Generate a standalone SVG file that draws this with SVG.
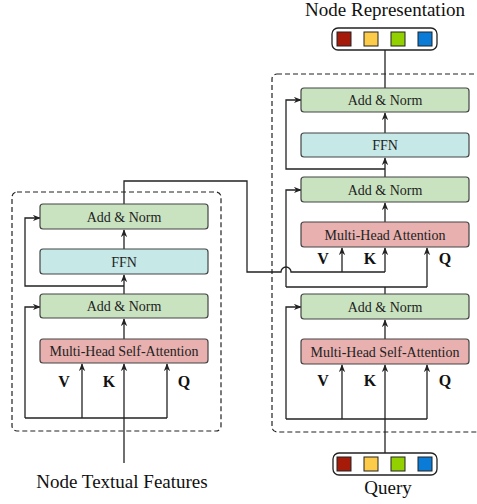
<svg xmlns="http://www.w3.org/2000/svg" width="477" height="504" viewBox="0 0 477 504">
<style>
.bx{stroke:#444;stroke-width:1.2}
.an{fill:#c9e2c0}
.ff{fill:#c6e9e8}
.mh{fill:#e8b0ae}
.lb{font-family:"Liberation Serif",serif;font-size:14px;fill:#222;text-anchor:middle}
.big{font-family:"Liberation Serif",serif;font-size:19px;fill:#111;text-anchor:middle}
.vkq{font-family:"Liberation Serif",serif;font-size:16px;font-weight:bold;fill:#111;text-anchor:middle}
.dash{fill:none;stroke:#222;stroke-width:1.2;stroke-dasharray:5,3}
.ln{fill:none;stroke:#222;stroke-width:1.3}
.ar{fill:none;stroke:#222;stroke-width:1.3;marker-end:url(#ah)}
.sq{stroke:#222;stroke-width:1}
.vec{fill:#fff;stroke:#222;stroke-width:1.3}
</style>
<defs>
<marker id="ah" viewBox="0 0 10 8" refX="9" refY="4" markerWidth="8" markerHeight="7" markerUnits="userSpaceOnUse" orient="auto">
<path d="M0,0 L10,4 L0,8 L3,4 z" fill="#222"/>
</marker>
</defs>

<g id="left-frame"><rect class="dash" x="12" y="192" width="209" height="239" rx="5"/></g>
<g id="right-frame"><rect class="dash" x="272" y="74" width="212" height="358" rx="5"/></g>

<g id="connectors">
<!-- left block -->
<line class="ar" x1="124" y1="463" x2="124" y2="364"/>
<polyline class="ln" points="25,418 167,418"/>
<line class="ar" x1="82" y1="418" x2="82" y2="364"/>
<line class="ar" x1="167" y1="418" x2="167" y2="364"/>
<polyline class="ar" points="25,418 25,307 40,307"/>
<line class="ar" x1="124" y1="339" x2="124" y2="319"/>
<line class="ar" x1="124" y1="294" x2="124" y2="275"/>
<polyline class="ar" points="124,286 25,286 25,218 40,218"/>
<line class="ar" x1="124" y1="249" x2="124" y2="230"/>
<path class="ln" d="M124,204 V181 H247 V272 H281 A5,5 0 0 1 291,272 H385"/>
<line class="ar" x1="385" y1="272" x2="385" y2="248"/>
<line class="ar" x1="342" y1="272" x2="342" y2="248"/>
<!-- right block -->
<line class="ar" x1="385" y1="453" x2="385" y2="365"/>
<polyline class="ln" points="286,419 427,419"/>
<line class="ar" x1="342" y1="419" x2="342" y2="365"/>
<line class="ar" x1="427" y1="419" x2="427" y2="365"/>
<polyline class="ar" points="286,419 286,307 301,307"/>
<line class="ar" x1="385" y1="339" x2="385" y2="320"/>
<line class="ln" x1="385" y1="294" x2="385" y2="287"/>
<polyline class="ln" points="286,287 427,287"/>
<polyline class="ar" points="286,287 286,190 301,190"/>
<line class="ar" x1="427" y1="287" x2="427" y2="248"/>
<line class="ar" x1="385" y1="222" x2="385" y2="203"/>
<line class="ar" x1="385" y1="177" x2="385" y2="158"/>
<polyline class="ar" points="385,169 286,169 286,100 301,100"/>
<line class="ar" x1="385" y1="133" x2="385" y2="113"/>
<line class="ln" x1="385" y1="88" x2="385" y2="50"/>
</g>

<g id="l-addnorm2"><rect class="bx an" x="40" y="204" width="168" height="25" rx="3"/><text class="lb" x="124" y="221.5">Add &amp; Norm</text></g>
<g id="l-ffn"><rect class="bx ff" x="40" y="249" width="168" height="25" rx="3"/><text class="lb" x="124" y="266.5">FFN</text></g>
<g id="l-addnorm1"><rect class="bx an" x="40" y="294" width="168" height="24" rx="3"/><text class="lb" x="124" y="311">Add &amp; Norm</text></g>
<g id="l-mhsa"><rect class="bx mh" x="40" y="339" width="168" height="24" rx="3"/><text class="lb" x="124" y="356">Multi-Head Self-Attention</text></g>
<g id="l-vkq"><text class="vkq" x="64" y="387">V</text><text class="vkq" x="109" y="387">K</text><text class="vkq" x="184" y="387">Q</text></g>

<g id="r-addnorm3"><rect class="bx an" x="301" y="88" width="168" height="24" rx="3"/><text class="lb" x="385" y="105">Add &amp; Norm</text></g>
<g id="r-ffn"><rect class="bx ff" x="301" y="133" width="168" height="24" rx="3"/><text class="lb" x="385" y="150">FFN</text></g>
<g id="r-addnorm2"><rect class="bx an" x="301" y="177" width="168" height="25" rx="3"/><text class="lb" x="385" y="194.5">Add &amp; Norm</text></g>
<g id="r-mha"><rect class="bx mh" x="301" y="222" width="168" height="25" rx="3"/><text class="lb" x="385" y="239.5">Multi-Head Attention</text></g>
<g id="r-vkq-top"><text class="vkq" x="323" y="264">V</text><text class="vkq" x="370" y="264">K</text><text class="vkq" x="445" y="264">Q</text></g>
<g id="r-addnorm1"><rect class="bx an" x="301" y="294" width="168" height="25" rx="3"/><text class="lb" x="385" y="311.5">Add &amp; Norm</text></g>
<g id="r-mhsa"><rect class="bx mh" x="301" y="339" width="168" height="25" rx="3"/><text class="lb" x="385" y="356.5">Multi-Head Self-Attention</text></g>
<g id="r-vkq-bot"><text class="vkq" x="323" y="386">V</text><text class="vkq" x="370" y="386">K</text><text class="vkq" x="445" y="386">Q</text></g>

<g id="node-representation">
<text class="big" x="385" y="16">Node Representation</text>
<rect class="vec" x="332" y="28" width="105" height="22" rx="6"/>
<rect class="sq" x="337" y="32" width="14" height="14" fill="#a51a08"/>
<rect class="sq" x="364" y="32" width="14" height="14" fill="#fdcb4a"/>
<rect class="sq" x="391" y="32" width="14" height="14" fill="#93d000"/>
<rect class="sq" x="418" y="32" width="14" height="14" fill="#0a7bd6"/>
</g>

<g id="query">
<rect class="vec" x="333" y="453" width="104" height="22" rx="6"/>
<rect class="sq" x="337" y="457" width="14" height="14" fill="#a51a08"/>
<rect class="sq" x="364" y="457" width="14" height="14" fill="#fdcb4a"/>
<rect class="sq" x="391" y="457" width="14" height="14" fill="#93d000"/>
<rect class="sq" x="418" y="457" width="14" height="14" fill="#0a7bd6"/>
<text class="big" x="388" y="494">Query</text>
</g>

<g id="node-textual-features"><text class="big" x="122" y="488">Node Textual Features</text></g>
</svg>
